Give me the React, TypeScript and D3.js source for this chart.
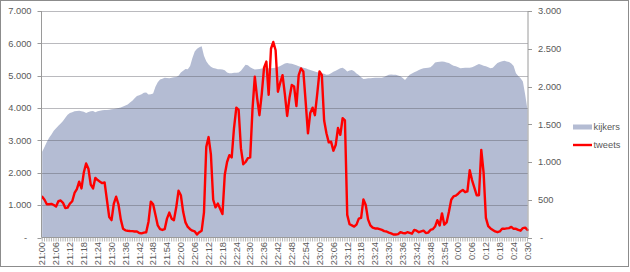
import React from "react";
import * as d3 from "d3";

// Minute-by-minute series, 21:00 .. 0:30 (index = minutes after 21:00)
const kijkers: number[] = [
  2650, 2800, 2950, 3080, 3180, 3300, 3380, 3450, 3520, 3600,
  3700, 3790, 3850, 3870, 3900, 3910, 3920, 3900, 3890, 3850,
  3880, 3900, 3910, 3870, 3900, 3920, 3930, 3940, 3940, 3950,
  3960, 3970, 3990, 4000, 4020, 4050, 4080, 4110, 4170, 4230,
  4300, 4370, 4400, 4430, 4470, 4480, 4420, 4430, 4450, 4660,
  4800, 4880, 4910, 4940, 4930, 4920, 4940, 4950, 4960, 5000,
  5100, 5150, 5210, 5200, 5300, 5550, 5750, 5830, 5880, 5910,
  5620, 5450, 5350, 5280, 5240, 5220, 5200, 5200, 5190, 5170,
  5100, 5080, 5080, 5090, 5090, 5100, 5150, 5250, 5340, 5320,
  5260, 5220, 5190, 5200, 5210, 5220, 5230, 5230, 5230, 5230,
  5240, 5250, 5270, 5300, 5340, 5380, 5390, 5380, 5370, 5350,
  5320, 5290, 5270, 5250, 5230, 5200, 5180, 5150, 5130, 5110,
  5100, 5080, 5060, 5030, 5040, 5080, 5120, 5150, 5190, 5230,
  5250, 5200, 5130, 5160, 5180, 5140, 5070, 5020, 4950, 4900,
  4910, 4920, 4920, 4930, 4940, 4940, 4940, 4940, 4960, 5000,
  5030, 5040, 5030, 5030, 5010, 4980, 4930, 4870, 4950, 5030,
  5070, 5110, 5140, 5180, 5210, 5230, 5240, 5250, 5260, 5320,
  5410, 5420, 5430, 5440, 5430, 5410, 5390, 5350, 5310, 5290,
  5260, 5230, 5240, 5250, 5250, 5250, 5260, 5290, 5330, 5360,
  5340, 5310, 5290, 5260, 5230, 5250, 5320, 5390, 5420, 5450,
  5460, 5440, 5420, 5380, 5300, 5080, 4990, 4920, 4820, 4410,
  3940,
];

const tweets: number[] = [
  540, 500, 440, 440, 445, 430, 410, 480, 490, 460,
  390, 395, 450, 480, 590, 640, 740, 650, 860, 980,
  910, 700, 650, 790, 760, 740, 720, 730, 500, 270,
  230, 450, 540, 440, 240, 115, 95, 90, 86, 85,
  80, 80, 60, 55, 65, 70, 210, 475, 440, 300,
  160, 110, 100, 110, 250, 330, 250, 230, 400, 620,
  560, 340, 200, 140, 110, 90, 80, 40, 70, 90,
  330, 1200, 1330, 1100, 500, 400, 450, 380, 310, 830,
  1000, 1090, 1060, 1450, 1720, 1690, 1180, 970, 1000, 1050,
  1060, 1700, 2130, 1850, 1620, 1900, 2250, 2330, 1890, 2500,
  2590, 2480, 1930, 2050, 2150, 1900, 1610, 1850, 2020, 2000,
  1740, 2150, 2240, 2200, 1800, 1380, 1650, 1720, 1620, 1900,
  2200, 2150, 1550, 1380, 1260, 1270, 1150, 1225, 1450, 1360,
  1580, 1550, 300, 175, 160, 145, 170, 250, 260, 505,
  430, 240, 160, 130, 120, 120, 110, 100, 85, 80,
  65, 55, 40, 40, 45, 70, 60, 55, 70, 60,
  50, 100, 90, 70, 80, 90, 60, 65, 100, 110,
  145, 230, 160, 320, 170, 200, 340, 500, 545, 555,
  580, 610, 630, 600, 610, 890, 760, 660, 560, 560,
  1160, 860, 260, 150, 120, 100, 80, 70, 80, 115,
  115, 120, 125, 140, 115, 115, 100, 90, 125, 130,
  100,
];

const xTickLabels: string[] = [
  "21:00", "21:06", "21:12", "21:18", "21:24", "21:30", "21:36", "21:42", "21:48", "21:54",
  "22:00", "22:06", "22:12", "22:18", "22:24", "22:30", "22:36", "22:42", "22:48", "22:54",
  "23:00", "23:06", "23:12", "23:18", "23:24", "23:30", "23:36", "23:42", "23:48", "23:54",
  "0:00", "0:06", "0:12", "0:18", "0:24", "0:30",
];
const xTickStep = 6;

const leftTicks: number[] = [0, 1000, 2000, 3000, 4000, 5000, 6000, 7000];
const rightTicks: number[] = [0, 500, 1000, 1500, 2000, 2500, 3000];
const seriesNames: string[] = ["kijkers", "tweets"];

const W = 630;
const H = 272;
const FONT = "'Liberation Sans', Arial, sans-serif";
const TXT = "#595959";

const fmt = (v: number) => (v === 0 ? "-" : d3.format(",")(v).replace(/,/g, "."));

export default function App() {
  const left = 41.5;
  const right = 528;
  const top = 11;
  const bottom = 237.5;

  const x = d3.scaleLinear().domain([0, kijkers.length - 1]).range([42.2, 527.5]);
  const yL = d3.scaleLinear().domain([0, 7000]).range([bottom, top]);
  const yR = d3.scaleLinear().domain([0, 3000]).range([bottom, top]);

  const area = d3
    .area<number>()
    .x((_, i) => x(i))
    .y0(yL(0))
    .y1((d) => yL(d));
  const line = d3
    .line<number>()
    .x((_, i) => x(i))
    .y((d) => yR(d));

  const fontSize = 9.3;

  return (
    <svg
      width={W}
      height={H}
      style={{ position: "absolute", left: 0, top: 0, background: "#fff" }}
      fontFamily={FONT}
    >
      <rect x={0.5} y={0.5} width={628} height={266} fill="#fff" stroke="#8c8c8c" />

      {/* area */}
      <path d={area(kijkers) || ""} fill="#b4bcd3" />

      {/* gridlines */}
      {leftTicks.slice(1).map((t) => (
        <line
          key={"g" + t}
          x1={left}
          x2={right}
          y1={Math.round(yL(t)) + 0.5}
          y2={Math.round(yL(t)) + 0.5}
          stroke="rgba(90,90,100,0.42)"
          strokeWidth={1}
        />
      ))}

      {/* tweets line */}
      <path
        d={line(tweets) || ""}
        fill="none"
        stroke="#ff0000"
        strokeWidth={2.4}
        strokeLinejoin="round"
        strokeLinecap="round"
      />

      {/* left axis */}
      <line x1={left} x2={left} y1={top} y2={bottom} stroke="#9a9a9a" />
      {leftTicks.map((t) => (
        <g key={"l" + t}>
          <line x1={left - 4} x2={left} y1={Math.round(yL(t)) + 0.5} y2={Math.round(yL(t)) + 0.5} stroke="#9a9a9a" />
          <text
            x={t === 0 ? 27 : 31.5}
            y={yL(t)}
            dy="0.35em"
            textAnchor="end"
            fontSize={fontSize}
            fill={TXT}
          >
            {fmt(t)}
          </text>
        </g>
      ))}

      {/* right axis */}
      <line x1={right} x2={right} y1={top} y2={bottom} stroke="#9a9a9a" />
      {rightTicks.map((t) => (
        <g key={"r" + t}>
          <line x1={right} x2={right + 4} y1={Math.round(yR(t)) + 0.5} y2={Math.round(yR(t)) + 0.5} stroke="#9a9a9a" />
          <text
            x={t === 0 ? 540 : 538}
            y={yR(t)}
            dy="0.35em"
            textAnchor="start"
            fontSize={fontSize}
            fill={TXT}
          >
            {fmt(t)}
          </text>
        </g>
      ))}

      {/* x axis */}
      <line x1={left} x2={right} y1={bottom} y2={bottom} stroke="#9a9a9a" />
      {kijkers.map((_, i) => (
        <line key={"t" + i} x1={x(i)} x2={x(i)} y1={bottom} y2={bottom + 4} stroke="#a0a0a0" strokeWidth={0.8} />
      ))}
      {xTickLabels.map((lab, k) => {
        const xi = x(k * xTickStep);
        return (
          <text
            key={"x" + k}
            transform={`translate(${xi},242) rotate(-90)`}
            dy="0.35em"
            textAnchor="end"
            fontSize={fontSize}
            fill={TXT}
          >
            {lab}
          </text>
        );
      })}

      {/* legend */}
      <rect x={573} y={124.5} width={19} height={5} fill="#b4bcd3" />
      <text x={593.5} y={127} dy="0.35em" fontSize={fontSize} fill={TXT}>
        {seriesNames[0]}
      </text>
      <line x1={573} x2={592} y1={145} y2={145} stroke="#ff0000" strokeWidth={2.4} />
      <text x={593.5} y={145} dy="0.35em" fontSize={fontSize} fill={TXT}>
        {seriesNames[1]}
      </text>
    </svg>
  );
}
